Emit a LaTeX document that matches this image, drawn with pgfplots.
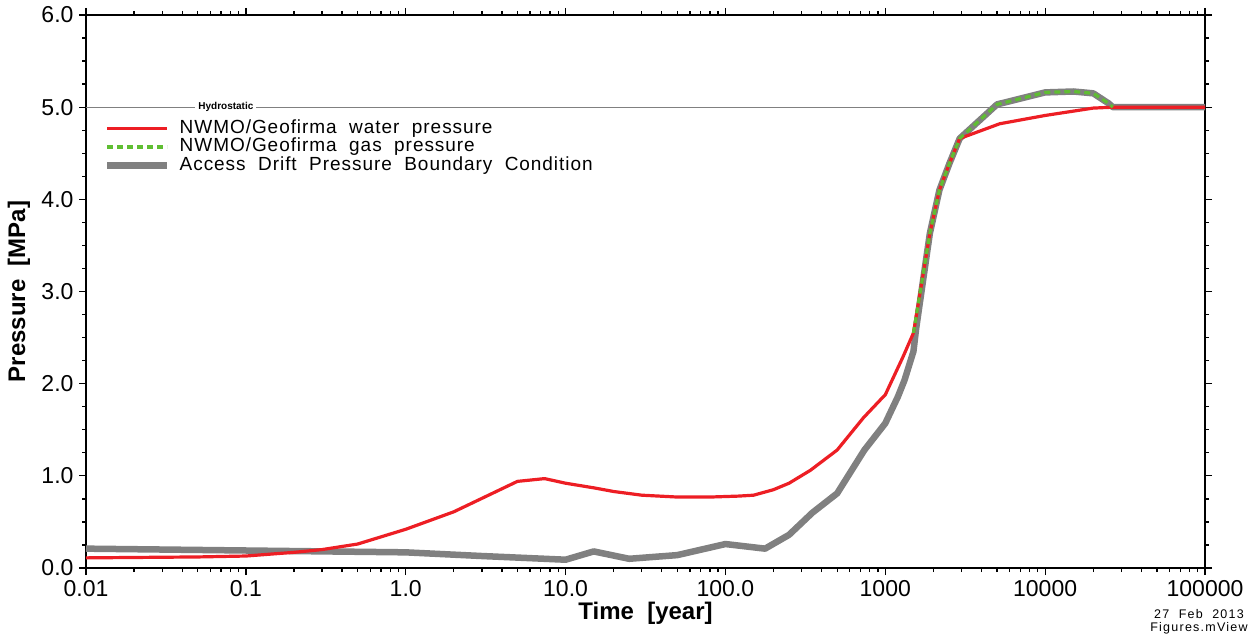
\documentclass[border=0pt]{standalone}
\usepackage{fontspec}
\setmainfont{Liberation Sans}
\newfontfamily\legfont[LetterSpace=5]{Liberation Sans}
\newfontfamily\widefont[LetterSpace=10]{Liberation Sans}
\usepackage{pgfplots}
\pgfplotsset{compat=1.18}
\pgfplotsset{mylegend/.style={legend image code/.code={\draw[##1] (0pt,0pt) -- (60pt,0pt);}}}
\definecolor{wred}{RGB}{237,30,36}
\definecolor{ggreen}{RGB}{95,190,50}
\definecolor{dgray}{RGB}{128,128,128}

\begin{document}
\begin{tikzpicture}
\begin{axis}[
  scale only axis, width=1119pt, height=553pt,
  xmode=log, xmin=0.01, xmax=100000, ymin=0, ymax=6,
  xtick={0.01,0.1,1,10,100,1000,10000,100000},
  xticklabels={0.01,0.1,1.0,10.0,100.0,1000,10000,100000},
  minor xtick={0.02,0.03,0.04,0.05,0.06,0.07,0.08,0.09,
               0.2,0.3,0.4,0.5,0.6,0.7,0.8,0.9,
               2,3,4,5,6,7,8,9,
               20,30,40,50,60,70,80,90,
               200,300,400,500,600,700,800,900,
               2000,3000,4000,5000,6000,7000,8000,9000,
               20000,30000,40000,50000,60000,70000,80000,90000},
  ytick={0,1,2,3,4,5,6},
  yticklabels={0.0,1.0,2.0,3.0,4.0,5.0,6.0},
  minor ytick={0.25,0.5,0.75,1.25,1.5,1.75,2.25,2.5,2.75,3.25,3.5,3.75,4.25,4.5,4.75,5.25,5.5,5.75},
  tick align=outside,
  xtick pos=both, ytick pos=both,
  xticklabel pos=bottom, yticklabel pos=left,
  major tick length=7pt, minor tick length=4pt,
  every tick/.style={black, line width=1.3pt},
  axis line style={line width=1.8pt},
  ticklabel style={font=\fontsize{23}{23}\selectfont},
  xticklabel style={yshift=-2pt},
  yticklabel style={xshift=-2pt},
  xlabel={Time\ \ [year]},
  ylabel={Pressure\ \ [MPa]},
  xlabel style={font=\bfseries\fontsize{24}{24}\selectfont, at={(rel axis cs:0.5,-0.0814)}, anchor=center},
  ylabel style={font=\bfseries\fontsize{24}{24}\selectfont, at={(rel axis cs:-0.0599,0.5)}, anchor=center},
  legend style={at={(rel axis cs:0.0161,0.812)}, anchor=north west, draw=none, fill=white,
    font=\legfont\fontsize{19}{19}\selectfont, inner sep=0pt, column sep=9pt,
    nodes={inner sep=0pt, text height=14pt, text depth=4.5pt}},
  legend cell align=left,
]
% hydrostatic
\addplot[forget plot, dgray, line width=1.3pt] coordinates {(0.01,5) (100000,5)};
\node[fill=white, inner xsep=3pt, inner ysep=1pt, font=\bfseries\fontsize{10}{10}\selectfont] at (axis cs:0.075,5) {Hydrostatic};
% access drift (gray)
\addplot[forget plot, dgray, line width=6.5pt, line join=round] coordinates {
 (0.01,0.21) (0.1,0.19) (1,0.17) (3,0.13) (10,0.09) (15,0.18) (25,0.10) (50,0.14)
 (100,0.26) (177,0.21) (250,0.36) (350,0.60) (500,0.81) (740,1.28) (1000,1.57)
 (1200,1.86) (1320,2.04) (1500,2.35) (1560,2.6) (1900,3.63) (2180,4.10) (2520,4.39)
 (2920,4.66) (5000,5.03) (10000,5.16) (15000,5.17) (20000,5.15) (25000,5.04) (26500,5.0) (100000,5.0)};
% water (red)
\addplot[wred, line width=3.2pt, line join=round, mylegend] coordinates {
 (0.01,0.11) (0.05,0.12) (0.1,0.13) (0.2,0.17) (0.3,0.20) (0.5,0.26) (1,0.42) (2,0.61)
 (5,0.94) (7.4,0.97) (10,0.92) (15,0.87) (20,0.83) (30,0.79) (50,0.77) (80,0.77)
 (120,0.78) (150,0.79) (200,0.85) (250,0.92) (340,1.06) (500,1.28) (730,1.63)
 (950,1.84) (1000,1.88) (1290,2.29) (1500,2.55) (1900,3.63) (2180,4.10) (2520,4.39)
 (2920,4.66) (5200,4.82) (10000,4.91) (20000,4.99) (27000,5.0) (100000,5.0)};
\addlegendentry{NWMO/Geofirma\ \ water\ \ pressure}
% gas (green dotted)
\addplot[ggreen, line width=3.2pt, dash pattern=on 6pt off 4pt, mylegend] coordinates {
 (1500,2.55) (1900,3.63) (2180,4.10) (2520,4.39) (2920,4.66) (5000,5.03)
 (10000,5.16) (15000,5.17) (20000,5.15) (25000,5.04) (26500,5.0)};
\addlegendentry{NWMO/Geofirma\ \ gas\ \ pressure}
\addlegendimage{dgray, line width=6.5pt, mylegend}
\addlegendentry{Access\ \ Drift\ \ Pressure\ \ Boundary\ \ Condition}
\coordinate (SW) at (rel axis cs:0,0);
\coordinate (SE) at (rel axis cs:1,0);
\coordinate (NE) at (rel axis cs:1,1);
\end{axis}
\node[anchor=north, align=center, inner sep=0pt, font=\widefont\fontsize{12.5}{13}\selectfont]
  at ([xshift=-6pt,yshift=-41pt]SE) {27\ \ Feb\ \ 2013\\Figures.mView};
\pgfresetboundingbox
\path[use as bounding box] ([xshift=-86pt,yshift=-66pt]SW) rectangle ([xshift=55pt,yshift=15pt]NE);
\end{tikzpicture}
\end{document}
